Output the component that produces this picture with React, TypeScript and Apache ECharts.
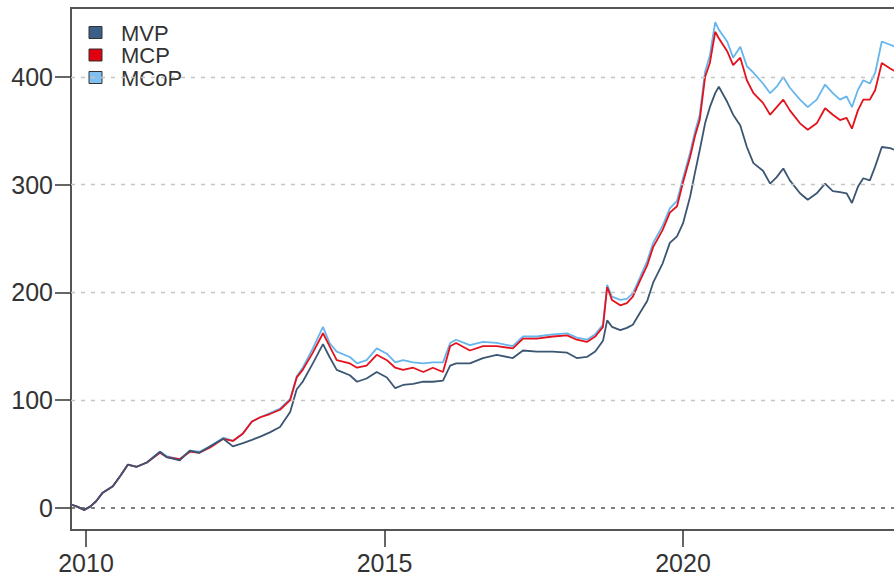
import React, { useEffect, useRef } from "react";
import * as echarts from "echarts";

// Sampling dates (fractional years)
const years = [
  2009.75, 2009.85, 2009.97, 2010.07, 2010.17, 2010.28, 2010.45, 2010.58, 2010.7, 2010.85,
  2011.02, 2011.24, 2011.35, 2011.57, 2011.74, 2011.9, 2012.08, 2012.3, 2012.46, 2012.63,
  2012.78, 2012.92, 2013.08, 2013.25, 2013.42, 2013.53, 2013.63, 2013.8, 2013.97, 2014.08,
  2014.2, 2014.42, 2014.54, 2014.7, 2014.87, 2015.04, 2015.18, 2015.31, 2015.48, 2015.65,
  2015.81, 2015.98, 2016.1, 2016.2, 2016.43, 2016.65, 2016.88, 2017.15, 2017.32, 2017.55,
  2017.82, 2018.06, 2018.22, 2018.39, 2018.53, 2018.66, 2018.73, 2018.81, 2018.95, 2019.06,
  2019.16, 2019.28, 2019.4, 2019.5, 2019.66, 2019.78, 2019.9, 2020.0, 2020.12, 2020.2,
  2020.28, 2020.37, 2020.45, 2020.54, 2020.6, 2020.74, 2020.84, 2020.96, 2021.07, 2021.18,
  2021.34, 2021.46, 2021.57, 2021.68, 2021.79, 2021.96, 2022.09, 2022.24, 2022.38, 2022.51,
  2022.63, 2022.74, 2022.83, 2022.93, 2023.02, 2023.13, 2023.22, 2023.33, 2023.47, 2023.56,
];

// Cumulative returns (%) per portfolio
const mvp = [
  3, 1, -2, 1, 6, 14, 20, 30, 40, 38,
  42, 52, 47, 44, 53, 51, 57, 64, 57, 60,
  63, 66, 70, 75, 89, 110, 117, 134, 152, 140,
  128, 123, 117, 120, 126, 121, 111, 114, 115, 117,
  117, 118, 132, 134, 134, 139, 142, 139, 146, 145,
  145, 144, 139, 140, 145, 155, 174, 168, 165, 167,
  170, 181, 192, 209, 227, 246, 252, 264, 289, 311,
  332, 357, 372, 385, 391, 377, 365, 355, 335, 320,
  313, 301, 307, 315, 304, 292, 286, 292, 301, 294,
  293, 292, 283, 298, 306, 304, 317, 335, 334, 332,
];

const mcp = [
  3, 1, -2, 1, 6, 14, 20, 30, 40, 38,
  42, 51, 47, 45, 52, 51, 56, 64, 62, 69,
  80, 84, 87, 91, 100, 121, 128, 144, 162, 150,
  137, 134, 130, 132, 142, 137, 130, 128, 130, 126,
  130, 126, 150, 153, 146, 150, 150, 148, 157, 157,
  159, 160, 156, 154, 159, 168, 205, 193, 188, 190,
  196, 211, 225, 242, 258, 274, 280, 302, 326, 345,
  360, 400, 413, 442, 436, 424, 411, 418, 397, 385,
  376, 365, 372, 379, 369, 357, 351, 357, 371, 365,
  360, 362, 352, 369, 379, 379, 388, 413, 408, 405,
];

const mcop = [
  3, 1, -2, 1, 6, 14, 20, 30, 40, 38,
  42, 52, 48, 45, 53, 52, 57, 65, 62, 69,
  80, 84, 88, 92, 101, 122, 130, 148, 168, 153,
  145, 140, 134, 137, 148, 143, 135, 137, 135, 134,
  135, 135, 153, 156, 151, 154, 153, 150, 159, 159,
  161, 162, 158, 156, 161, 170, 207, 196, 193, 194,
  199, 214, 229, 246, 262, 278, 285, 306, 330, 349,
  365, 405, 420, 451, 444, 433, 418, 428, 410, 404,
  394, 385, 391, 400, 390, 379, 372, 379, 393, 385,
  379, 382, 372, 388, 397, 394, 404, 433, 430, 428,
];

const yTicks = [0, 100, 200, 300, 400];
const xTicks = [2010, 2015, 2020];
const legendNames = ["MVP", "MCP", "MCoP"];

const lineColors = ["#3b5672", "#e3121c", "#66b6ee"];
const boxColors = ["#3c5f88", "#e0000f", "#80c0f0"];

const FONT = "'Liberation Sans', Arial, Helvetica, sans-serif";

// Plot geometry: left edge and scale of the time axis
const GRID_LEFT = 71;
const GRID_TOP = 8;
const GRID_HEIGHT = 522;
const CHART_W = 930;
const CHART_H = 578;
const X_MIN = 2009.749;
const PX_PER_YEAR = 59.7;
const X_MAX = X_MIN + (CHART_W - GRID_LEFT) / PX_PER_YEAR;

export default function App() {
  const ref = useRef<HTMLDivElement>(null);

  useEffect(() => {
    if (!ref.current) return;
    const chart = echarts.init(ref.current, undefined, { renderer: "svg" });

    const zip = (vals: number[]) => years.map((t, i) => [t, vals[i]]);

    // Legend drawn as filled boxes with labels, stacked tightly
    const legendGraphics = legendNames.map((name, i) => {
      const cy = 33 + i * 22.5;
      return {
        type: "group",
        children: [
          {
            type: "rect",
            shape: { x: 89, y: cy - 6.5, width: 13, height: 12 },
            style: { fill: boxColors[i], stroke: "#333", lineWidth: 1 },
          },
          {
            type: "text",
            x: 121,
            y: cy,
            style: {
              text: name,
              fill: "#333",
              font: `22px ${FONT}`,
              textVerticalAlign: "middle",
              textAlign: "left",
            },
          },
        ],
      };
    });

    const axisLineStyle = { color: "#555", width: 2 };

    chart.setOption({
      animation: false,
      backgroundColor: "#ffffff",
      textStyle: { fontFamily: FONT },
      grid: {
        left: GRID_LEFT,
        top: GRID_TOP,
        right: 0,
        height: GRID_HEIGHT,
        show: true,
        borderColor: "#555",
        borderWidth: 2,
        backgroundColor: "transparent",
      },
      xAxis: {
        type: "value",
        min: X_MIN,
        max: X_MAX,
        axisLine: { show: true, onZero: false, lineStyle: axisLineStyle },
        splitLine: { show: false },
        axisTick: {
          show: true,
          inside: false,
          length: 17,
          customValues: xTicks,
          lineStyle: { color: "#333", width: 1.5 },
        },
        axisLabel: {
          customValues: xTicks,
          margin: 20,
          fontSize: 25,
          color: "#333",
          fontFamily: FONT,
          formatter: (v: number) => String(Math.round(v)),
        },
      },
      yAxis: {
        type: "value",
        min: -20.7,
        max: 464.1,
        axisLine: { show: true, onZero: false, lineStyle: axisLineStyle },
        splitLine: { show: false },
        axisTick: {
          show: true,
          inside: false,
          length: 16,
          customValues: yTicks,
          lineStyle: { color: "#333", width: 1.5 },
        },
        axisLabel: {
          customValues: yTicks,
          margin: 18,
          fontSize: 25,
          color: "#333",
          fontFamily: FONT,
        },
      },
      graphic: legendGraphics,
      series: [
        {
          name: "refLines",
          type: "line",
          data: [],
          z: 1,
          silent: true,
          markLine: {
            silent: true,
            symbol: "none",
            label: { show: false },
            data: yTicks.map((v) => ({
              yAxis: v,
              lineStyle: {
                color: v === 0 ? "#555" : "#c4c4c4",
                width: v === 0 ? 1.6 : 1.3,
                type: [4, 6],
              },
            })),
          },
        },
        {
          name: legendNames[2],
          type: "line",
          data: zip(mcop),
          showSymbol: false,
          z: 2,
          lineStyle: { color: lineColors[2], width: 1.8 },
        },
        {
          name: legendNames[1],
          type: "line",
          data: zip(mcp),
          showSymbol: false,
          z: 3,
          lineStyle: { color: lineColors[1], width: 1.8 },
        },
        {
          name: legendNames[0],
          type: "line",
          data: zip(mvp),
          showSymbol: false,
          z: 4,
          lineStyle: { color: lineColors[0], width: 1.8 },
        },
      ],
    });

    return () => chart.dispose();
  }, []);

  return (
    <div
      style={{
        position: "fixed",
        left: 0,
        top: 0,
        width: 894,
        height: CHART_H,
        overflow: "hidden",
        background: "#fff",
      }}
    >
      <div ref={ref} style={{ width: CHART_W, height: CHART_H }} />
    </div>
  );
}
